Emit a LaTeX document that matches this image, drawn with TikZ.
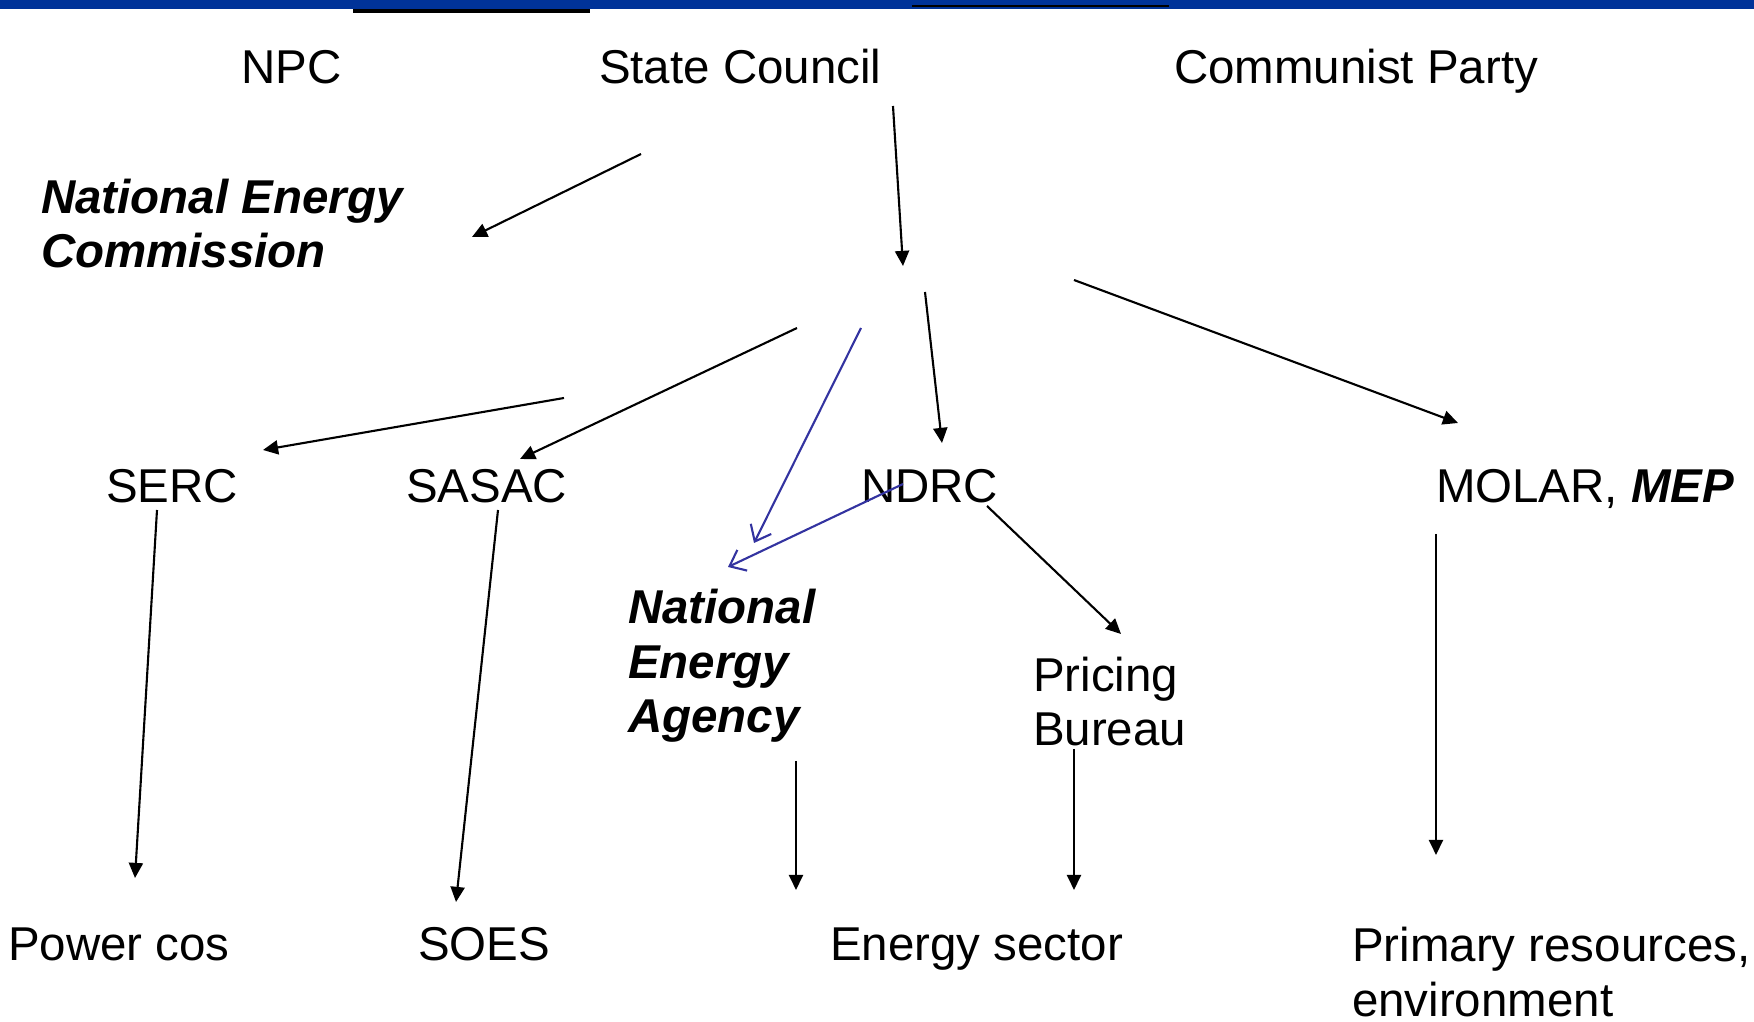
\documentclass[tikz,border=0pt]{standalone}
\usepackage{fontspec}
\setmainfont{Liberation Sans}
\usetikzlibrary{arrows.meta}
\definecolor{barblue}{RGB}{0,51,153}
\definecolor{linkblue}{RGB}{51,51,160}

\begin{document}
\begin{tikzpicture}[x=0.01cm, y=-0.01cm, line width=0.6pt,
		lbl/.style = {anchor=base west, inner sep=0pt, align=left, font=\fontsize{13.5}{15.6}\selectfont},
		bi/.style = {lbl, font=\fontsize{13.5}{15.6}\selectfont\bfseries\itshape},
		arr/.style = {-{Triangle[length=4.3pt, width=4pt]}}]
		\useasboundingbox (0,0) rectangle (1754,1022);
		\fill[barblue] (0,0) rectangle (1754,9.5);
		\fill[black] (353,9.5) rectangle (590,12.7);
		\fill[black] (912,5) rectangle (1169,6.8);

		% multi-line labels sit on the baseline of their last line
		\node[lbl] (npc) at (240,84) {NPC};
		\node[lbl] (sc) at (598,84) {State Council};
		\node[lbl] (cp) at (1173,84) {Communist Party};
		\node[bi] (nec) at (40,268) {National Energy\\Commission};
		\node[lbl] (serc) at (105,503) {SERC};
		\node[lbl] (sasac) at (405,503) {SASAC};
		\node[lbl] (ndrc) at (860,503) {NDRC};
		\node[lbl] (molar) at (1435,503) {MOLAR, \textbf{\textit{MEP}}};
		\node[bi] (nea) at (627,733) {National\\Energy\\Agency};
		\node[lbl] (pb) at (1032,746) {Pricing\\Bureau};
		\node[lbl] (pcos) at (7,960) {Power cos};
		\node[lbl] (soes) at (417,960) {SOES};
		\node[lbl] (es) at (829,960) {Energy sector};
		\node[lbl] (pr) at (1351,1016) {Primary resources,\\environment};

		\coordinate (sc-nec) at (641,154);   \coordinate (nec-in) at (472,237);
		\coordinate (sc-out) at (893,106);   \coordinate (sc-in) at (903,266);
		\coordinate (mid-nd) at (925,292);   \coordinate (ndrc-in) at (942,443);
		\coordinate (mid-ml) at (1074,280);  \coordinate (molar-in) at (1458,423);
		\coordinate (mid-sa) at (797,328);   \coordinate (sasac-in) at (520,459);
		\coordinate (mid-se) at (564,398);   \coordinate (serc-in) at (263,450);
		\coordinate (mid-ne) at (861,328);   \coordinate (nea-in1) at (754,543);
		\coordinate (ndrc-ne) at (903,484);  \coordinate (nea-in2) at (728,567);
		\coordinate (ndrc-pb) at (987,506);  \coordinate (pb-in) at (1121,634);
		\coordinate (serc-out) at (157,510); \coordinate (pcos-in) at (135,878);
		\coordinate (sasac-out) at (498,510);\coordinate (soes-in) at (456,902);
		\coordinate (nea-out) at (796,761);  \coordinate (es-in1) at (796,890);
		\coordinate (pb-out) at (1074,749);  \coordinate (es-in2) at (1074,890);
		\coordinate (molar-out) at (1436,534); \coordinate (pr-in) at (1436,855);

		\draw[arr] (sc-nec) -- (nec-in);
		\draw[arr] (sc-out) -- (sc-in);
		\draw[arr] (mid-nd) -- (ndrc-in);
		\draw[arr] (mid-ml) -- (molar-in);
		\draw[arr] (mid-sa) -- (sasac-in);
		\draw[arr] (mid-se) -- (serc-in);
		\draw[arr] (ndrc-pb) -- (pb-in);
		\draw[arr] (serc-out) -- (pcos-in);
		\draw[arr] (sasac-out) -- (soes-in);
		\draw[arr] (nea-out) -- (es-in1);
		\draw[arr] (pb-out) -- (es-in2);
		\draw[arr] (molar-out) -- (pr-in);

		\begin{scope}[linkblue, -{Straight Barb[length=4pt, width=6.5pt]}]
			\draw (mid-ne) -- (nea-in1);
			\draw (ndrc-ne) -- (nea-in2);
		\end{scope}
	\end{tikzpicture}
\end{document}
